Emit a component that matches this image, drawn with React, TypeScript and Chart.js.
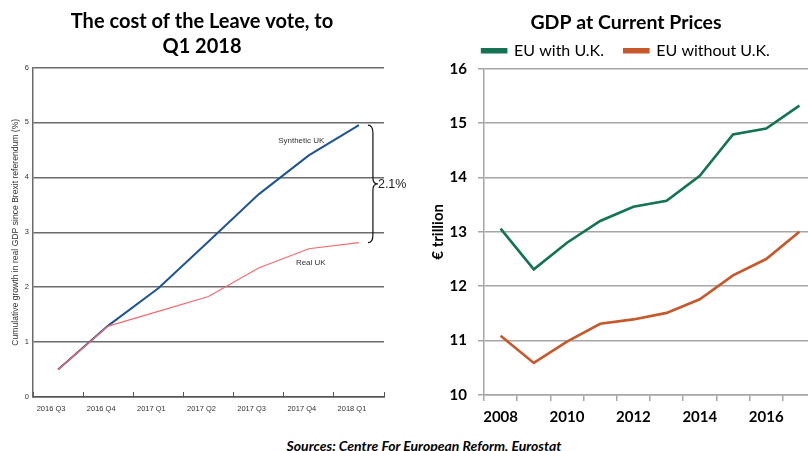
import React, { useEffect, useRef } from "react";
import { Chart, registerables } from "chart.js";

Chart.register(...registerables);

// ---------- Left chart data ----------
const quarters = ["2016 Q3", "2016 Q4", "2017 Q1", "2017 Q2", "2017 Q3", "2017 Q4", "2018 Q1"];
const syntheticUK = [0.5, 1.3, 1.98, 2.83, 3.69, 4.4, 4.95];
const realUK = [0.5, 1.29, 1.56, 1.83, 2.35, 2.7, 2.81];
const leftTitle = ["The cost of the Leave vote, to", "Q1 2018"];
const leftYTitle = "Cumulative growth in real GDP since Brexit referendum (%)";
const syntheticLabel = "Synthetic UK";
const realLabel = "Real UK";
const gapLabel = "2.1%";
// label anchors in data space (category index, value)
const syntheticLabelAnchor = [4.85, 4.67];
const realLabelAnchor = [5.04, 2.45];

// ---------- Right chart data ----------
const years = ["2008", "2009", "2010", "2011", "2012", "2013", "2014", "2015", "2016", "2017"];
const euWithUK = [13.06, 12.31, 12.8, 13.2, 13.46, 13.57, 14.03, 14.79, 14.9, 15.32];
const euWithoutUK = [11.09, 10.59, 10.98, 11.31, 11.39, 11.51, 11.76, 12.2, 12.5, 13.0];
const seriesNames = ["EU with U.K.", "EU without U.K."];
const rightTitle = "GDP at Current Prices";
const rightYTitle = "€ trillion";
const sourceText = "Sources: Centre For European Reform, Eurostat";

const NARROW = "'Liberation Sans Narrow', 'Liberation Sans', Arial, sans-serif";
const CAL = "Lato, 'Open Sans', sans-serif";

const annotationPlugin = {
  id: "brexitAnnotations",
  afterDatasetsDraw(chart: any) {
    const { ctx, scales } = chart;
    const x = scales.x;
    const y = scales.y;
    ctx.save();
    ctx.fillStyle = "#333";
    ctx.font = `8px ${NARROW}`;
    ctx.textAlign = "center";
    ctx.textBaseline = "middle";
    ctx.fillText(syntheticLabel, x.getPixelForValue(syntheticLabelAnchor[0]), y.getPixelForValue(syntheticLabelAnchor[1]));
    ctx.fillText(realLabel, x.getPixelForValue(realLabelAnchor[0]), y.getPixelForValue(realLabelAnchor[1]));

    // curly brace between last values
    const last = quarters.length - 1;
    const bx = x.getPixelForValue(last) + 9;
    const top = y.getPixelForValue(syntheticUK[last]);
    const bot = y.getPixelForValue(realUK[last]);
    const mid = (top + bot) / 2;
    const w = 5;
    ctx.strokeStyle = "#111";
    ctx.lineWidth = 1.2;
    ctx.beginPath();
    ctx.moveTo(bx, top);
    ctx.quadraticCurveTo(bx + w, top, bx + w, top + 8);
    ctx.lineTo(bx + w, mid - 6);
    ctx.quadraticCurveTo(bx + w, mid, bx + 2 * w, mid);
    ctx.quadraticCurveTo(bx + w, mid, bx + w, mid + 6);
    ctx.lineTo(bx + w, bot - 8);
    ctx.quadraticCurveTo(bx + w, bot, bx, bot);
    ctx.stroke();

    ctx.fillStyle = "#222";
    ctx.font = `12.5px ${NARROW}`;
    ctx.textAlign = "left";
    ctx.fillText(gapLabel, bx + 2 * w, mid + 1);
    ctx.restore();
  },
};

export default function App() {
  const leftRef = useRef<HTMLCanvasElement>(null);
  const rightRef = useRef<HTMLCanvasElement>(null);

  useEffect(() => {
    const left = new Chart(leftRef.current!, {
      type: "line",
      data: {
        labels: quarters,
        datasets: [
          { label: syntheticLabel, data: syntheticUK, borderColor: "#1f5592", borderWidth: 2, pointRadius: 0, tension: 0, order: 1 },
          { label: realLabel, data: realUK, borderColor: "#f46a6e", borderWidth: 1.2, pointRadius: 0, tension: 0, order: 0 },
        ],
      },
      options: {
        animation: false,
        responsive: false,
        layout: { padding: { left: 20, right: 26, top: 0, bottom: 3 } },
        plugins: {
          legend: { display: false },
          tooltip: { enabled: false },
          title: {
            display: true,
            text: leftTitle,
            color: "#000",
            font: { family: CAL, weight: "bold", size: 20, lineHeight: 1.25 },
            padding: { top: 9.5, bottom: 8 },
          },
        },
        scales: {
          x: {
            offset: true,
            grid: { display: true, drawOnChartArea: false, offset: true, tickLength: -5, color: "#555", lineWidth: 1 },
            border: { color: "#555", width: 1.5 },
            ticks: { autoSkip: false, maxRotation: 0, labelOffset: -7, padding: 12, color: "#333", font: { family: NARROW, size: 7.5 } },
            afterFit: (s: any) => { s.height = 20; },
          },
          y: {
            min: 0,
            max: 6,
            ticks: { stepSize: 1, padding: 4, color: "#333", font: { family: NARROW, size: 7.5 } },
            grid: { color: "#6b6b6b", lineWidth: 1.5, drawTicks: false },
            border: { color: "#6b6b6b", width: 1.5 },
            title: { display: true, text: leftYTitle, color: "#333", font: { family: NARROW, size: 8.6 }, padding: { top: -10, bottom: 0 } },
            afterFit: (s: any) => { s.width = 13; },
          },
        },
      },
      plugins: [annotationPlugin],
    } as any);

    const right = new Chart(rightRef.current!, {
      type: "line",
      data: {
        labels: years,
        datasets: [
          { label: seriesNames[0], data: euWithUK, borderColor: "#137352", backgroundColor: "#137352", borderWidth: 2.6, pointRadius: 0, tension: 0 },
          { label: seriesNames[1], data: euWithoutUK, borderColor: "#c7582b", backgroundColor: "#c7582b", borderWidth: 2.6, pointRadius: 0, tension: 0 },
        ],
      },
      options: {
        animation: false,
        responsive: false,
        layout: { padding: { left: 12, right: 12, top: 0, bottom: 0 } },
        plugins: {
          tooltip: { enabled: false },
          title: {
            display: true,
            text: rightTitle,
            color: "#000",
            font: { family: CAL, weight: "bold", size: 19.5 },
            padding: { top: 11.3, bottom: 0 },
          },
          legend: {
            display: true,
            position: "top",
            labels: {
              boxWidth: 24,
              boxHeight: 3,
              padding: 8,
              color: "#000",
              font: { family: CAL, size: 16 },
              generateLabels: (chart: any) =>
                Chart.defaults.plugins.legend.labels
                  .generateLabels(chart)
                  .map((l: any, i: number) => (i === 0 ? { ...l, text: l.text + "   " } : l)),
            },
          },
        },
        scales: {
          x: {
            offset: true,
            grid: { display: true, drawOnChartArea: false, offset: true, tickLength: 6, color: "#a6a6a6", lineWidth: 1.5 },
            border: { color: "#a6a6a6", width: 1.5 },
            ticks: {
              autoSkip: false,
              maxRotation: 0,
              padding: 7,
              color: "#000",
              font: { family: CAL, weight: "bold", size: 15 },
              callback: (_v: any, i: number) => (i % 2 === 0 ? years[i] : ""),
            },
            afterFit: (s: any) => { s.height = 35; },
          },
          y: {
            min: 10,
            max: 16,
            ticks: { stepSize: 1, padding: 11, color: "#000", font: { family: CAL, weight: "bold", size: 15 } },
            grid: { color: "#a6a6a6", lineWidth: 1.5, tickLength: 6 },
            border: { color: "#a6a6a6", width: 1.5 },
            title: { display: true, text: rightYTitle, color: "#000", font: { family: CAL, weight: "bold", size: 15 }, padding: { top: -7, bottom: 0 } },
            afterFit: (s: any) => { s.width = 48; },
          },
        },
      },
    } as any);

    return () => {
      left.destroy();
      right.destroy();
    };
  }, []);

  return (
    <div style={{ position: "fixed", left: 0, top: 0, width: 808, height: 451, overflow: "hidden", background: "#fff" }}>
      <canvas ref={leftRef} width={410} height={420} style={{ position: "absolute", left: 0, top: 0 }} />
      <canvas ref={rightRef} width={404} height={430} style={{ position: "absolute", left: 424, top: 0 }} />
      <div
        style={{
          position: "absolute",
          left: 0,
          width: 848,
          top: 437,
          textAlign: "center",
          fontFamily: CAL,
          fontWeight: "bold",
          fontStyle: "italic",
          fontSize: 14,
          lineHeight: "17px",
          color: "#000",
          whiteSpace: "nowrap",
        }}
      >
        {sourceText}
      </div>
    </div>
  );
}
